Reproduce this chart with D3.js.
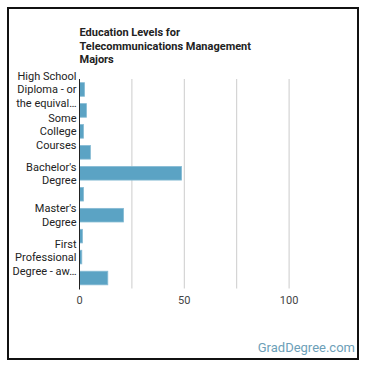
<!DOCTYPE html>
<html>
<head>
<meta charset="utf-8">
<script src="https://cdn.jsdelivr.net/npm/d3@7"></script>
<style>
  body { margin: 0; background: #fff; }
  svg { font-family: Roboto, Arial, sans-serif; }
</style>
</head>
<body>
<svg id="chart" width="370" height="370"></svg>
<script>
// education levels (every other one gets a label, like the original)
const categories = [
    "High School Diploma - or the equivalent (GED)",
    "Post-Secondary Certificate",
    "Some College Courses",
    "Associate's Degree (or other 2-year degree)",
    "Bachelor's Degree",
    "Post-Baccalaureate Certificate",
    "Master's Degree",
    "Post-Master's Certificate",
    "First Professional Degree - awarded for completion of a program",
    "Doctoral Degree"
];
const values = [2.4, 3.3, 1.9, 5.2, 48.7, 1.9, 21.0, 1.4, 1.1, 13.5];
const xTicks = [0, 25, 50, 75, 100];
const xTickLabels = ["0", "", "50", "", "100"];
const titleLines = ["Education Levels for", "Telecommunications Management", "Majors"];

const svg = d3.select("#chart");

const margin = {left: 79.5, top: 79, right: 341.5, bottom: 288.5};

const x = d3.scaleLinear().domain([0, 125]).range([margin.left, margin.right]);
const y = d3.scaleBand().domain(categories)
    .range([margin.top, margin.bottom])
    .paddingInner(0.35)
    .paddingOuter(0.175);

// frame
svg.append("rect")
    .attr("x", 8).attr("y", 8)
    .attr("width", 350).attr("height", 351)
    .attr("fill", "#fff")
    .attr("stroke", "#111")
    .attr("stroke-width", 2);

// title
svg.append("text")
    .attr("x", margin.left)
    .attr("y", 36)
    .attr("font-size", 11)
    .attr("font-weight", "bold")
    .attr("fill", "#222")
    .selectAll("tspan")
    .data(titleLines)
    .join("tspan")
    .attr("x", margin.left)
    .attr("dy", (d, i) => i === 0 ? 0 : 13.5)
    .text(d => d);

// gridlines
svg.append("g")
    .selectAll("line")
    .data(xTicks.slice(1))
    .join("line")
    .attr("x1", d => x(d)).attr("x2", d => x(d))
    .attr("y1", margin.top).attr("y2", margin.bottom)
    .attr("stroke", "#ccc")
    .attr("stroke-width", 1);

// bars
svg.append("g")
    .selectAll("rect")
    .data(values)
    .join("rect")
    .attr("x", x(0))
    .attr("y", (d, i) => y(categories[i]))
    .attr("width", d => x(d) - x(0))
    .attr("height", y.bandwidth())
    .attr("fill", "#5ba3c4")
    .attr("stroke", "#86bbd4")
    .attr("stroke-width", 0.8);

// baseline
svg.append("line")
    .attr("x1", x(0)).attr("x2", x(0))
    .attr("y1", margin.top).attr("y2", margin.bottom + 1)
    .attr("stroke", "#222")
    .attr("stroke-width", 1);

// tick labels
svg.append("g")
    .selectAll("text")
    .data(xTicks)
    .join("text")
    .attr("x", d => x(d))
    .attr("y", 304)
    .attr("text-anchor", "middle")
    .attr("font-size", 11)
    .attr("fill", "#444")
    .text((d, i) => xTickLabels[i]);

// category labels: wrap into up to 3 lines, cut with an ellipsis
const labelWidth = 64;
const lineH = 13.5;
const labels = svg.append("g");
categories.forEach((c, i) => {
    if (i % 2 !== 0) return;
    const t = labels.append("text")
        .attr("text-anchor", "end")
        .attr("font-size", 11)
        .attr("fill", "#222");
    const probe = t.append("tspan");
    const words = c.split(/\s+/);
    let lines = [], cur = "";
    for (let w of words) {
        let test = cur ? cur + " " + w : w;
        probe.text(test);
        if (probe.node().getComputedTextLength() > labelWidth && cur) {
            lines.push(cur);
            cur = w;
        } else {
            cur = test;
        }
    }
    if (cur) lines.push(cur);
    if (lines.length > 3) {
        let last = lines.slice(2).join(" ");
        probe.text(last + "…");
        while (probe.node().getComputedTextLength() > labelWidth && last.length > 1) {
            last = last.slice(0, -1).trimEnd();
            probe.text(last + "…");
        }
        lines = lines.slice(0, 2).concat([last + "…"]);
    }
    probe.remove();
    const cy = y(c) + y.bandwidth() / 2;
    const y0 = cy - (lines.length - 1) * lineH / 2 + 4;
    t.selectAll("tspan")
        .data(lines)
        .join("tspan")
        .attr("x", margin.left - 3)
        .attr("y", (d, k) => y0 + k * lineH)
        .text(d => d);
});

// source
svg.append("text")
    .attr("x", 355)
    .attr("y", 352)
    .attr("text-anchor", "end")
    .attr("font-size", 13)
    .attr("fill", "#6d9fb8")
    .text("GradDegree.com");
</script>
</body>
</html>
